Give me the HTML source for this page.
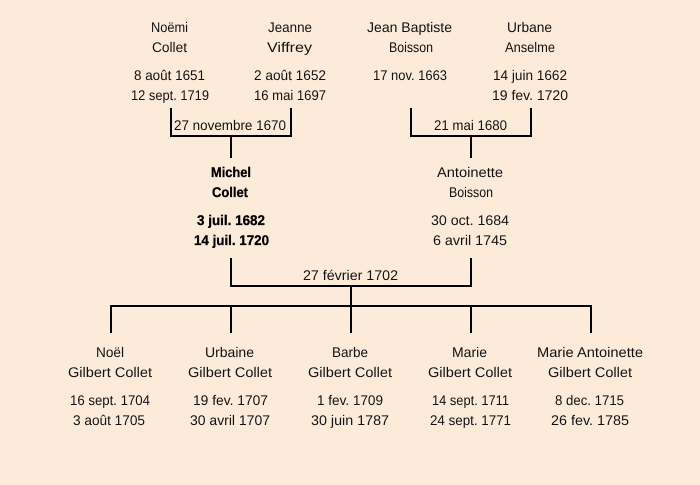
<!DOCTYPE html>
<html><head><meta charset="utf-8"><style>
html,body{margin:0;padding:0;background:#fcebd8;width:700px;height:485px;overflow:hidden}
svg{display:block}
text{font-family:"Comic Sans MS","Liberation Sans",sans-serif;font-size:14px;fill:#111;text-rendering:geometricPrecision}
.b{font-weight:bold;fill:#000;stroke:#000;stroke-width:.3px}
</style></head><body>
<svg width="700" height="485" viewBox="0 0 700 485" xmlns="http://www.w3.org/2000/svg">
<rect width="700" height="485" fill="#fcebd8"/>
<g fill="none" stroke="#000" stroke-width="2">
<path d="M171 108V136H291V108M231 136V158"/>
<path d="M411 108V136H531V108M471 136V158"/>
<path d="M231 258V286H471V258M351 286V333"/>
<path d="M111 333V306H591V333M231 306V333M471 306V333"/>
</g>
<g>
<text x="151" y="32" textLength="37" lengthAdjust="spacingAndGlyphs">Noëmi</text>
<text x="152" y="52" textLength="35" lengthAdjust="spacingAndGlyphs">Collet</text>
<text x="134" y="80" textLength="71" lengthAdjust="spacingAndGlyphs">8 août 1651</text>
<text x="131" y="100" textLength="78" lengthAdjust="spacingAndGlyphs">12 sept. 1719</text>
<text x="268" y="32" textLength="44" lengthAdjust="spacingAndGlyphs">Jeanne</text>
<text x="267" y="52" textLength="45" lengthAdjust="spacingAndGlyphs">Viffrey</text>
<text x="254" y="80" textLength="72" lengthAdjust="spacingAndGlyphs">2 août 1652</text>
<text x="254" y="100" textLength="72" lengthAdjust="spacingAndGlyphs">16 mai 1697</text>
<text x="174" y="130" textLength="112" lengthAdjust="spacingAndGlyphs">27 novembre 1670</text>
<text x="367" y="32" textLength="85" lengthAdjust="spacingAndGlyphs">Jean Baptiste</text>
<text x="389" y="52" textLength="44" lengthAdjust="spacingAndGlyphs">Boisson</text>
<text x="373" y="80" textLength="74" lengthAdjust="spacingAndGlyphs">17 nov. 1663</text>
<text x="507" y="32" textLength="45" lengthAdjust="spacingAndGlyphs">Urbane</text>
<text x="505" y="52" textLength="50" lengthAdjust="spacingAndGlyphs">Anselme</text>
<text x="493" y="80" textLength="74" lengthAdjust="spacingAndGlyphs">14 juin 1662</text>
<text x="492" y="100" textLength="76" lengthAdjust="spacingAndGlyphs">19 fev. 1720</text>
<text x="434" y="130" textLength="73" lengthAdjust="spacingAndGlyphs">21 mai 1680</text>
<text class="b" x="211" y="177" textLength="40" lengthAdjust="spacingAndGlyphs">Michel</text>
<text class="b" x="212" y="197" textLength="36" lengthAdjust="spacingAndGlyphs">Collet</text>
<text class="b" x="197" y="225" textLength="68" lengthAdjust="spacingAndGlyphs">3 juil. 1682</text>
<text class="b" x="194" y="245" textLength="75" lengthAdjust="spacingAndGlyphs">14 juil. 1720</text>
<text x="437" y="177" textLength="66" lengthAdjust="spacingAndGlyphs">Antoinette</text>
<text x="449" y="197" textLength="44" lengthAdjust="spacingAndGlyphs">Boisson</text>
<text x="431" y="225" textLength="78" lengthAdjust="spacingAndGlyphs">30 oct. 1684</text>
<text x="433" y="245" textLength="74" lengthAdjust="spacingAndGlyphs">6 avril 1745</text>
<text x="303" y="280" textLength="95" lengthAdjust="spacingAndGlyphs">27 février 1702</text>
<text x="96" y="357" textLength="28" lengthAdjust="spacingAndGlyphs">Noël</text>
<text x="68" y="377" textLength="84" lengthAdjust="spacingAndGlyphs">Gilbert Collet</text>
<text x="70" y="405" textLength="80" lengthAdjust="spacingAndGlyphs">16 sept. 1704</text>
<text x="73" y="425" textLength="72" lengthAdjust="spacingAndGlyphs">3 août 1705</text>
<text x="205" y="357" textLength="49" lengthAdjust="spacingAndGlyphs">Urbaine</text>
<text x="188" y="377" textLength="84" lengthAdjust="spacingAndGlyphs">Gilbert Collet</text>
<text x="193" y="405" textLength="75" lengthAdjust="spacingAndGlyphs">19 fev. 1707</text>
<text x="190" y="425" textLength="80" lengthAdjust="spacingAndGlyphs">30 avril 1707</text>
<text x="332" y="357" textLength="36" lengthAdjust="spacingAndGlyphs">Barbe</text>
<text x="308" y="377" textLength="84" lengthAdjust="spacingAndGlyphs">Gilbert Collet</text>
<text x="317" y="405" textLength="66" lengthAdjust="spacingAndGlyphs">1 fev. 1709</text>
<text x="311" y="425" textLength="78" lengthAdjust="spacingAndGlyphs">30 juin 1787</text>
<text x="452" y="357" textLength="35" lengthAdjust="spacingAndGlyphs">Marie</text>
<text x="428" y="377" textLength="84" lengthAdjust="spacingAndGlyphs">Gilbert Collet</text>
<text x="432" y="405" textLength="77" lengthAdjust="spacingAndGlyphs">14 sept. 1711</text>
<text x="430" y="425" textLength="81" lengthAdjust="spacingAndGlyphs">24 sept. 1771</text>
<text x="537" y="357" textLength="106" lengthAdjust="spacingAndGlyphs">Marie Antoinette</text>
<text x="548" y="377" textLength="84" lengthAdjust="spacingAndGlyphs">Gilbert Collet</text>
<text x="555" y="405" textLength="69" lengthAdjust="spacingAndGlyphs">8 dec. 1715</text>
<text x="551" y="425" textLength="78" lengthAdjust="spacingAndGlyphs">26 fev. 1785</text>
</g>
</svg>
</body></html>
